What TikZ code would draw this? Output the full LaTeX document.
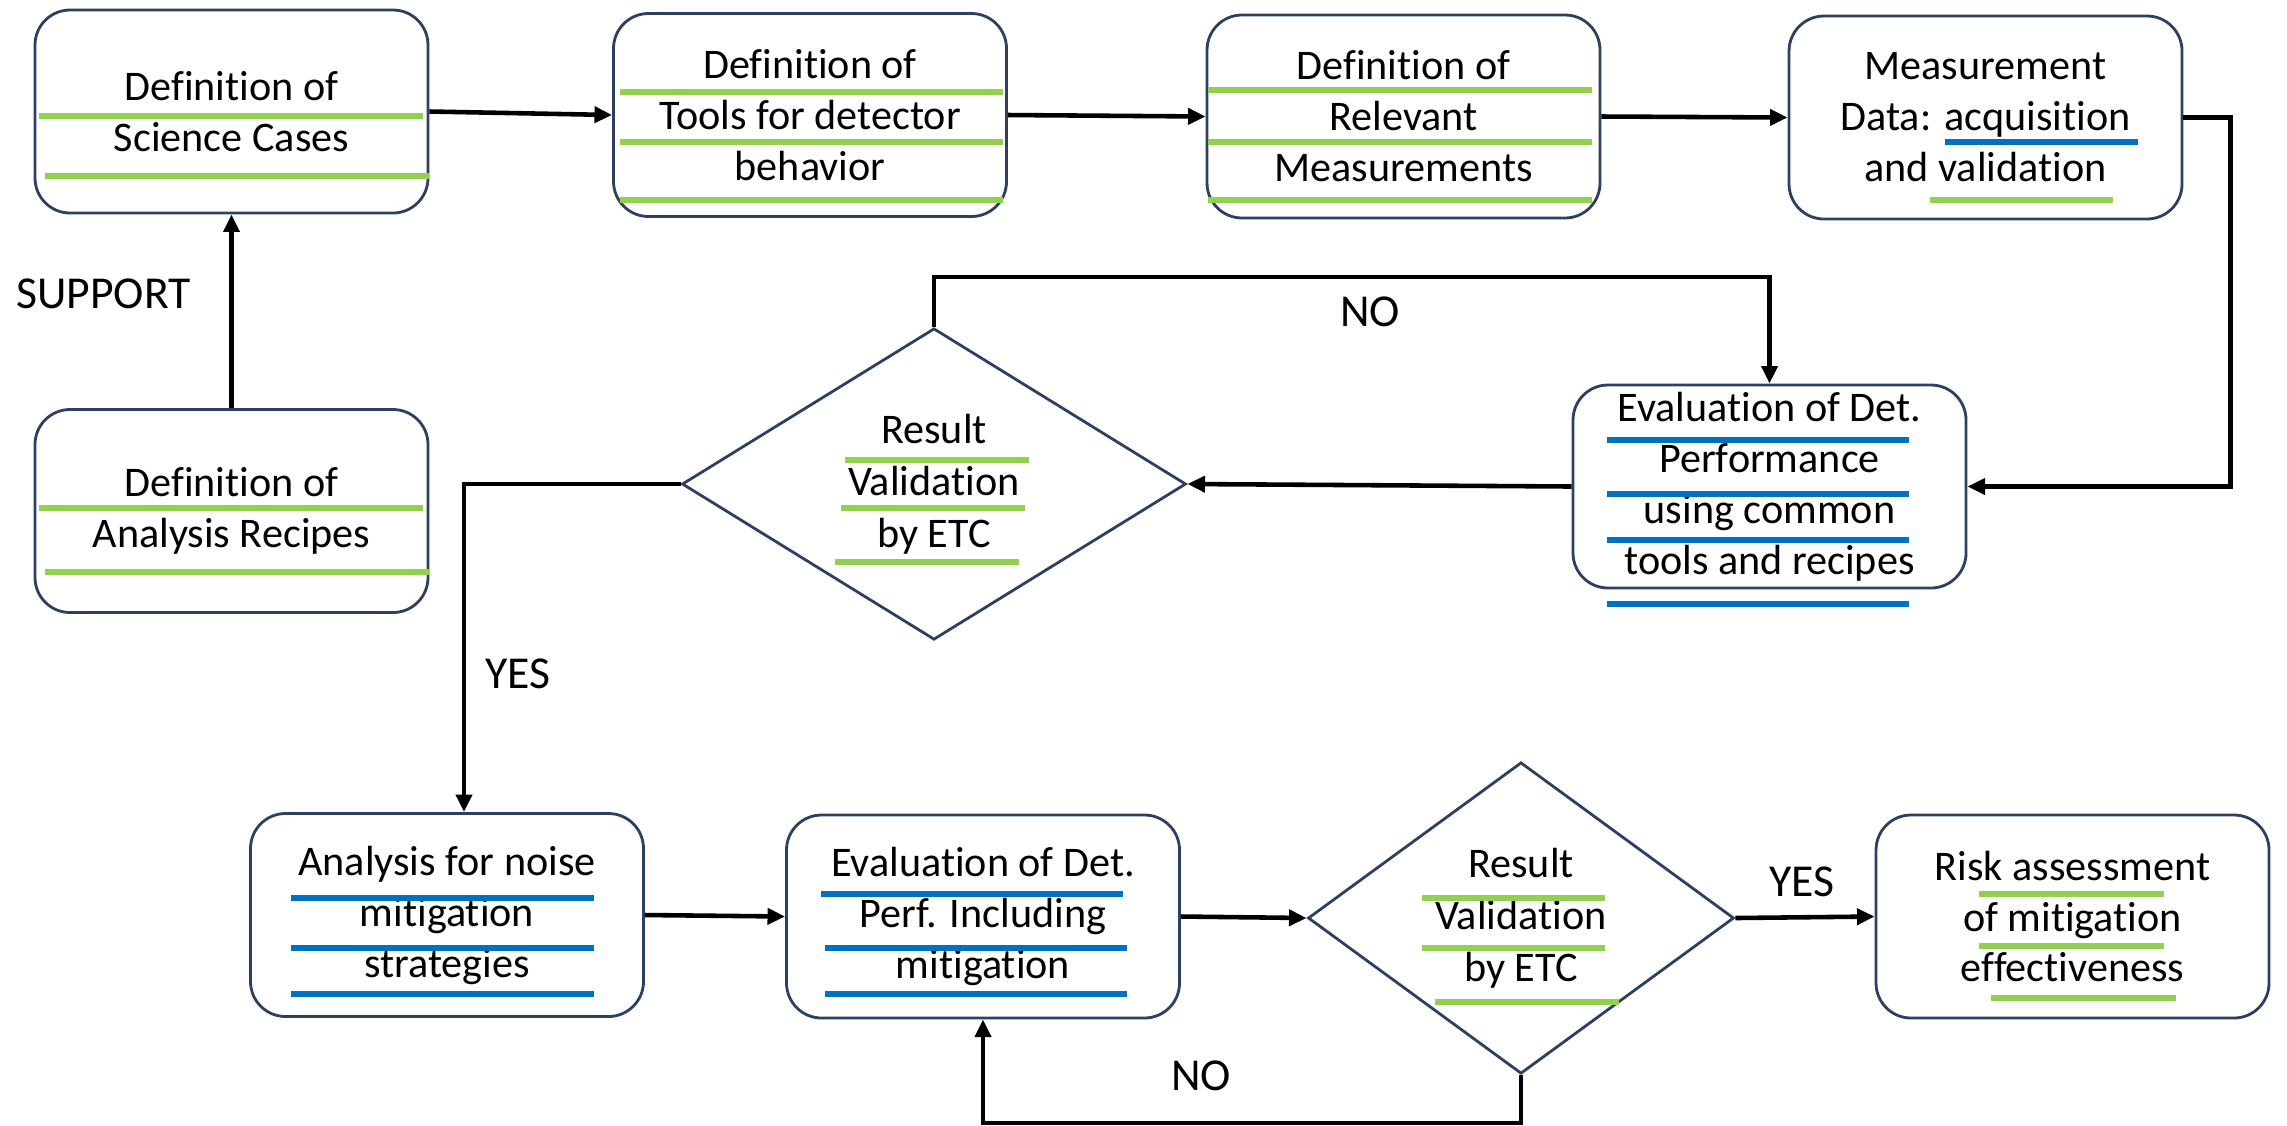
\documentclass[tikz,border=0pt]{standalone}
\usepackage{fontspec}
\setmainfont[Ligatures=NoCommon]{Carlito}
\usetikzlibrary{calc,shapes.geometric,arrows.meta}
\definecolor{frame}{RGB}{46,64,98}
\definecolor{gmark}{RGB}{146,208,80}
\definecolor{bmark}{RGB}{0,112,192}

\begin{document}
\begin{tikzpicture}[
  box/.style={draw=frame, line width=0.8pt, rounded corners=0.35cm, minimum width=3.93cm, minimum height=2.03cm, inner sep=0pt, align=center, font=\fontsize{12}{14.5}\selectfont},
  check/.style={draw=frame, line width=0.8pt, diamond, inner sep=0pt, align=center, font=\fontsize{12}{14.8}\selectfont},
  flow/.style={line width=1.3pt, -{Triangle[length=5pt,width=4.5pt]}},
  tag/.style={font=\fontsize{13}{15}\selectfont},
  gline/.style={gmark, line width=1.5pt},
  bline/.style={bmark, line width=1.5pt}]
\useasboundingbox (0,0) rectangle (22.87,-11.25);

% top row
\node[box] (sci) at (2.315,-1.115) {Definition of\\Science Cases};
\node[box] (tools) at (8.10,-1.15) {Definition of\\Tools for detector\\behavior};
\node[box] (relev) at (14.035,-1.165) {Definition of\\Relevant\\Measurements};
\node[box] (meas) at (19.855,-1.175) {Measurement\\Data: acquisition\\and validation};

% middle row
\node[box] (recipes) at (2.315,-5.11) {Definition of\\Analysis Recipes};
\node[check, minimum width=5.04cm, minimum height=3.04cm] (check1) at (9.34,-4.84) {Result\\Validation\\by ETC};
\node[box] (evalA) at (17.695,-4.865) {Evaluation of Det.\\Performance\\using common\\tools and recipes};

% bottom row
\node[box] (noise) at (4.47,-9.15) {Analysis for noise\\mitigation\\strategies};
\node[box] (evalB) at (9.83,-9.165) {Evaluation of Det.\\Perf. Including\\mitigation};
\node[check, minimum width=4.26cm, minimum height=3.04cm] (check2) at (15.21,-9.18) {Result\\Validation\\by ETC};
\node[box] (risk) at (20.725,-9.165) {Risk assessment\\of mitigation\\effectiveness};

% underlines
\draw[gline] ($(sci)+(-1.925,-0.045)$) -- ++(3.84,0);
\draw[gline] ($(sci)+(-1.865,-0.645)$) -- ++(3.84,0);
\draw[gline] ($(tools)+(-1.90,0.23)$) -- ++(3.83,0);
\draw[gline] ($(tools)+(-1.90,-0.27)$) -- ++(3.83,0);
\draw[gline] ($(tools)+(-1.90,-0.85)$) -- ++(3.83,0);
\draw[gline] ($(relev)+(-1.955,0.265)$) -- ++(3.84,0);
\draw[gline] ($(relev)+(-1.955,-0.255)$) -- ++(3.84,0);
\draw[gline] ($(relev)+(-1.955,-0.835)$) -- ++(3.84,0);
\draw[bline] ($(meas)+(-0.405,-0.245)$) -- ++(1.93,0);
\draw[gline] ($(meas)+(-0.555,-0.825)$) -- ++(1.83,0);
\draw[gline] ($(recipes)+(-1.925,0.03)$) -- ++(3.84,0);
\draw[gline] ($(recipes)+(-1.865,-0.61)$) -- ++(3.84,0);
\draw[gline] ($(check1)+(-0.89,0.24)$) -- ++(1.84,0);
\draw[gline] ($(check1)+(-0.93,-0.24)$) -- ++(1.84,0);
\draw[gline] ($(check1)+(-0.99,-0.78)$) -- ++(1.84,0);
\draw[bline] ($(evalA)+(-1.625,0.465)$) -- ++(3.02,0);
\draw[bline] ($(evalA)+(-1.625,-0.075)$) -- ++(3.02,0);
\draw[bline] ($(evalA)+(-1.625,-0.535)$) -- ++(3.02,0);
\draw[bline] ($(evalA)+(-1.625,-1.175)$) -- ++(3.02,0);
\draw[bline] ($(noise)+(-1.56,0.17)$) -- ++(3.03,0);
\draw[bline] ($(noise)+(-1.56,-0.33)$) -- ++(3.03,0);
\draw[bline] ($(noise)+(-1.56,-0.79)$) -- ++(3.03,0);
\draw[bline] ($(evalB)+(-1.62,0.225)$) -- ++(3.02,0);
\draw[bline] ($(evalB)+(-1.58,-0.315)$) -- ++(3.02,0);
\draw[bline] ($(evalB)+(-1.58,-0.775)$) -- ++(3.02,0);
\draw[gline] ($(check2)+(-0.99,0.20)$) -- ++(1.83,0);
\draw[gline] ($(check2)+(-0.99,-0.30)$) -- ++(1.83,0);
\draw[gline] ($(check2)+(-0.86,-0.84)$) -- ++(1.84,0);
\draw[gline] ($(risk)+(-0.935,0.225)$) -- ++(1.85,0);
\draw[gline] ($(risk)+(-0.935,-0.295)$) -- ++(1.85,0);
\draw[gline] ($(risk)+(-0.815,-0.815)$) -- ++(1.85,0);

% connectors
\draw[flow] (sci.east) -- (tools.west);
\draw[flow] (tools.east) -- (relev.west);
\draw[flow] (relev.east) -- (meas.west);
\draw[flow] (meas.east) -- ++(0.47,0) |- (evalA.east);
\draw[flow] (evalA.west) -- (check1.east);
\draw[flow] (check1.north) -- ++(0,0.5) -| (evalA.north);
\draw[flow] (check1.west) -| ($(noise.north)+(0.17,0)$);
\draw[flow] (recipes.north) -- (sci.south);
\draw[flow] (noise.east) -- (evalB.west);
\draw[flow] (evalB.east) -- (check2.west);
\draw[flow] (check2.east) -- (risk.west);
\draw[flow] (check2.south) -- ++(0,-0.48) -| (evalB.south);

% labels
\node[tag] (support) at (1.035,-2.94) {SUPPORT};
\node[tag] (noA) at (13.70,-3.12) {NO};
\node[tag] (yesA) at (5.18,-6.74) {YES};
\node[tag] (yesB) at (18.02,-8.82) {YES};
\node[tag] (noB) at (12.01,-10.76) {NO};
\end{tikzpicture}
\end{document}
